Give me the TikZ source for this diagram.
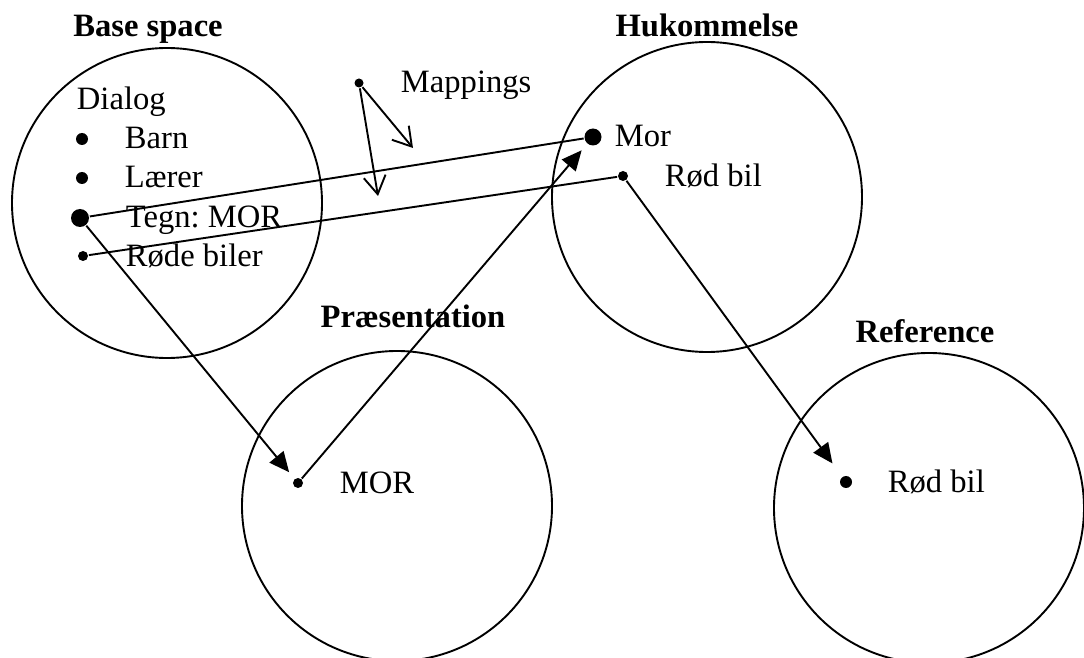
\documentclass[tikz,border=0pt]{standalone}
\usepackage{fontspec}
\setmainfont{Liberation Serif}
\usetikzlibrary{arrows.meta,positioning}
\frenchspacing

\begin{document}
\begin{tikzpicture}[x=0.5pt,y=-0.5pt,line width=0.95pt,>={Triangle[length=10pt,width=9pt]},
	spacenode/.style={circle,draw,minimum size=155pt,inner sep=0pt},
	dotnode/.style={circle,fill,inner sep=0pt,minimum size=5pt},
	bigdotnode/.style={circle,fill,inner sep=0pt,minimum size=8.5pt},
	labelnode/.style={anchor=base west,inner sep=0pt,font=\fontsize{16.3}{19}\selectfont},
	titlenode/.style={anchor=base,inner sep=0pt,font=\fontsize{16.3}{19}\selectfont\bfseries},
	mapline/.style={-{Straight Barb[length=9pt,width=11pt]}}]
	
	\useasboundingbox (0,0) rectangle (1084,658);
	
	% the four spaces
	\node [spacenode] (base) at (167, 203) {};
	\node [spacenode] (huk) at (707, 197) {};
	\node [spacenode] (pres) at (397, 506) {};
	\node [spacenode] (ref) at (929, 508) {};
	
	\node [titlenode] (baset) at (148, 37) {Base space};
	\node [titlenode] (hukt) at (707, 37) {Hukommelse};
	\node [titlenode] (prest) at (413, 328) {Præsentation};
	\node [titlenode] (reft) at (925, 343) {Reference};
	
	% base space
	\node [labelnode] (dialog) at (76, 110) {Dialog};
	\node [dotnode, minimum size=6pt] (b1) at (82, 139) {};
	\node [labelnode] (barn) at (124, 149) {Barn};
	\node [dotnode, minimum size=6pt] (b2) at (82, 178) {};
	\node [labelnode] (laerer) at (124, 188) {Lærer};
	\node [bigdotnode, minimum size=9pt] (tegn) at (80, 218) {};
	\node [labelnode] (tegnt) at (125, 228) {Tegn: MOR};
	\node [dotnode] (rode) at (83, 256) {};
	\node [labelnode] (rodet) at (125, 267) {Røde biler};
	
	% mappings
	\node [dotnode, minimum size=4.5pt] (map) at (359, 83) {};
	\node [labelnode] (mapt) at (400, 93) {Mappings};
	\coordinate (map1) at (413, 148);
	\coordinate (map2) at (378, 196);
	
	% hukommelse
	\node [bigdotnode] (morH) at (593, 137) {};
	\node [labelnode] (morHt) at (614, 147) {Mor};
	\node [dotnode] (bilH) at (623, 176) {};
	\node [labelnode] (bilHt) at (664, 187) {Rød bil};
	
	% praesentation and reference
	\node [dotnode] (morP) at (298, 483) {};
	\node [labelnode] (morPt) at (339, 494) {MOR};
	\node [dotnode, minimum size=6pt] (bilR) at (846, 482) {};
	\node [labelnode] (bilRt) at (887, 493) {Rød bil};
	
	\draw [mapline] (map) to (map1);
	\draw [mapline] (map) to (map2);
	
	\draw (tegn) to (morH);
	\draw (rode) to (bilH);
	\draw [->, shorten >=4pt] (tegn) to (morP);
	\draw [->, shorten >=4pt] (morP) to (morH);
	\draw [->, shorten >=8pt] (bilH) to (bilR);
\end{tikzpicture}
\end{document}
